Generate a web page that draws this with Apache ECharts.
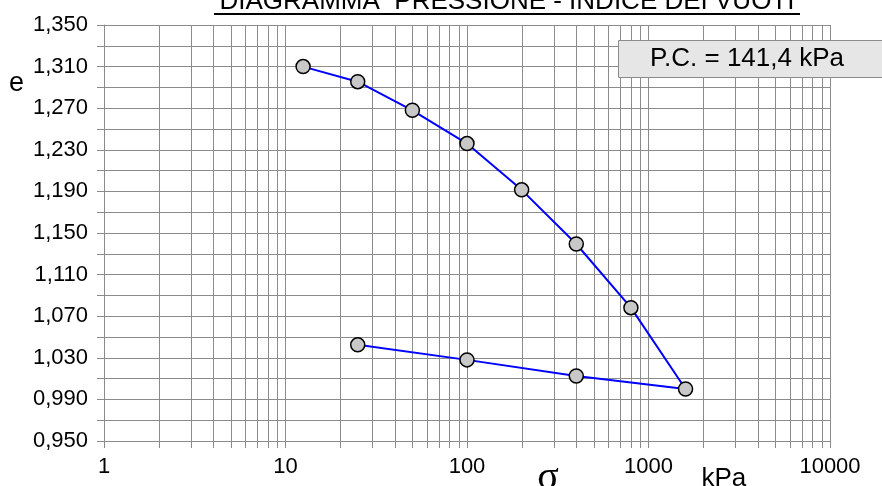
<!DOCTYPE html>
<html>
<head>
<meta charset="utf-8">
<script src="https://cdn.jsdelivr.net/npm/echarts@6/dist/echarts.min.js"></script>
<style>html,body{margin:0;padding:0;background:#fff}#c{width:882px;height:486px}</style>
</head>
<body>
<div id="c"></div>
<script>
// Data
const pressure = [12.5, 25, 50, 100, 200, 400, 800, 1600, 400, 100, 25];
const voidRatio = [1.310, 1.2955, 1.268, 1.236, 1.1915, 1.1394, 1.0782, 1.000, 1.0125, 1.028, 1.0425];
const minorX = [2,3,4,5,6,7,8,9, 20,30,40,50,60,70,80,90, 200,300,400,500,600,700,800,900, 2000,3000,4000,5000,6000,7000,8000,9000];
const xTicks = [1, 10, 100, 1000, 10000];
const yMin = 0.95, yMax = 1.35, yStep = 0.04;
const titleText = 'DIAGRAMMA  PRESSIONE - INDICE DEI VUOTI';
const pcText = 'P.C. = 141,4 kPa';

const FONT = 'Liberation Sans, Arial, sans-serif';
const GRID = '#8c8c8c';
const chart = echarts.init(document.getElementById('c'), null, {renderer: 'canvas'});

chart.setOption({
  animation: false,
  backgroundColor: '#ffffff',
  grid: {left: 104, right: 52, top: 25, bottom: 45, containLabel: false},
  xAxis: {
    type: 'log', logBase: 10, min: xTicks[0], max: xTicks[xTicks.length - 1],
    axisLine: {show: true, lineStyle: {color: GRID, width: 1}},
    axisTick: {show: true, length: 7, lineStyle: {color: GRID}},
    splitLine: {show: true, lineStyle: {color: GRID, width: 1}},
    minorTick: {show: false}, minorSplitLine: {show: false},
    axisLabel: {fontFamily: FONT, fontSize: 22, color: '#000', margin: 15, showMinLabel: true, showMaxLabel: true,
      formatter: v => String(Math.round(v))}
  },
  yAxis: {
    type: 'value', min: yMin, max: yMax, interval: yStep,
    axisLine: {show: true, lineStyle: {color: GRID, width: 1}},
    axisTick: {show: true, length: 7, lineStyle: {color: GRID}},
    minorTick: {show: true, splitNumber: 2, length: 7, lineStyle: {color: GRID}},
    splitLine: {show: true, lineStyle: {color: GRID, width: 1}},
    minorSplitLine: {show: true, lineStyle: {color: GRID, width: 1}},
    axisLabel: {fontFamily: FONT, fontSize: 22, color: '#000', margin: 16,
      formatter: v => v.toFixed(3).replace('.', ',')}
  },
  series: [
    {
      type: 'custom', silent: true, clip: false, z: 1,
      data: minorX.map(v => [v, yMin]),
      encode: {x: 0, y: 1},
      renderItem: function (params, api) {
        const v = api.value(0);
        const top = api.coord([v, yMax]);
        const bot = api.coord([v, yMin]);
        const x = Math.round(top[0]) + 0.5;
        return {type: 'line', shape: {x1: x, y1: top[1], x2: x, y2: bot[1] + 7},
          style: {stroke: GRID, lineWidth: 1}};
      }
    },
    {
      type: 'line', z: 5,
      data: pressure.map((p, i) => [p, voidRatio[i]]),
      lineStyle: {color: '#0000ff', width: 2},
      symbol: 'circle', symbolSize: 14,
      itemStyle: {color: '#c8c8c8', borderColor: '#000000', borderWidth: 1.5},
      showAllSymbol: true
    }
  ],
  graphic: [
    {type: 'text', x: 507, y: 15, z: 10, silent: true,
      style: {text: titleText, fontFamily: FONT, fontSize: 26, fill: '#000', align: 'center', verticalAlign: 'bottom'}},
    {type: 'line', z: 10, silent: true, shape: {x1: 214, y1: 14, x2: 800, y2: 14}, style: {stroke: '#000', lineWidth: 2}},
    {type: 'text', x: 16.5, y: 84, z: 10, silent: true,
      style: {text: 'e', fontFamily: FONT, fontSize: 27, fill: '#000', align: 'center', verticalAlign: 'middle'}},
    {type: 'rect', z: 10, silent: true, shape: {x: 618.5, y: 40.5, width: 280, height: 37},
      style: {fill: '#e6e6e6', stroke: '#8c8c8c', lineWidth: 1}},
    {type: 'text', x: 747, y: 59, z: 11, silent: true,
      style: {text: pcText, fontFamily: FONT, fontSize: 26, fill: '#000', align: 'center', verticalAlign: 'middle'}},
    {type: 'text', x: 548, y: 458, z: 10, silent: true,
      style: {text: 'σ', fontFamily: 'Liberation Serif, DejaVu Serif, serif', fontSize: 40, fill: '#000', align: 'center', verticalAlign: 'top'}},
    {type: 'text', x: 701.5, y: 466, z: 10, silent: true,
      style: {text: 'kPa', fontFamily: FONT, fontSize: 26, fill: '#000', align: 'left', verticalAlign: 'top'}}
  ]
});
</script>
</body>
</html>
